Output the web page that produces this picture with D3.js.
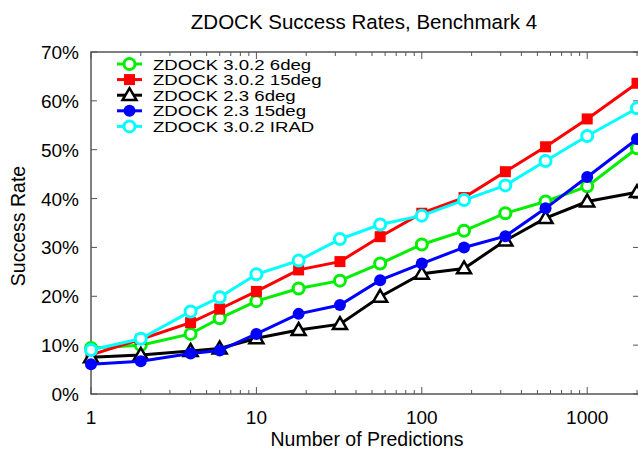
<!DOCTYPE html>
<html>
<head>
<meta charset="utf-8">
<script src="https://cdn.jsdelivr.net/npm/d3@7"></script>
<style>
  body { margin: 0; background: #fff; }
  text { font-family: "Liberation Sans", Arial, sans-serif; fill: #000; }
</style>
</head>
<body>
<div id="chart"></div>
<script>
const predictions = [1, 2, 4, 6, 10, 18, 32, 56, 100, 180, 320, 560, 1000, 2000];

const zdock302_6deg  = [9.4, 10.0, 12.3, 15.5, 19.0, 21.6, 23.2, 26.7, 30.6, 33.4, 37.0, 39.4, 42.5, 50.3];
const zdock302_15deg = [8.0, 11.2, 14.6, 17.4, 21.0, 25.4, 27.1, 32.2, 37.0, 40.2, 45.5, 50.6, 56.3, 63.6];
const zdock23_6deg   = [7.5, 8.0, 8.8, 9.3, 11.4, 13.1, 14.3, 19.9, 24.6, 25.7, 31.4, 36.0, 39.4, 41.3];
const zdock23_15deg  = [6.1, 6.7, 8.3, 8.9, 12.3, 16.4, 18.2, 23.3, 26.7, 30.0, 32.3, 38.0, 44.4, 52.2];
const zdock302_irad  = [9.0, 11.3, 16.9, 19.8, 24.5, 27.3, 31.7, 34.7, 36.5, 39.7, 42.7, 47.7, 52.8, 58.5];

const seriesNames = ["ZDOCK 3.0.2 6deg", "ZDOCK 3.0.2 15deg", "ZDOCK 2.3 6deg", "ZDOCK 2.3 15deg", "ZDOCK 3.0.2 IRAD"];
const seriesColors = ["#00ee00", "#ff0000", "#000000", "#0000ff", "#00ffff"];
const seriesMarkers = ["circleOpen", "square", "triangleOpen", "circleFilled", "circleOpen"];
const seriesValues = [zdock302_6deg, zdock302_15deg, zdock23_6deg, zdock23_15deg, zdock302_irad];

const yTicks = [0, 10, 20, 30, 40, 50, 60, 70];
const xTicks = [1, 10, 100, 1000];

const width = 638, height = 455;
const plot = { left: 91, right: 637, top: 52, bottom: 394 };

const svg = d3.select("#chart").append("svg")
    .attr("width", width)
    .attr("height", height);

const x = d3.scaleLog().domain([1, 2000]).range([plot.left, plot.right]);
const y = d3.scaleLinear().domain([0, 70]).range([plot.bottom, plot.top]);

// title
svg.append("text")
    .attr("x", 364)
    .attr("y", 29)
    .attr("text-anchor", "middle")
    .attr("font-size", "20.5px")
    .text("ZDOCK Success Rates, Benchmark 4");

// axis labels
svg.append("text")
    .attr("x", 367)
    .attr("y", 446)
    .attr("text-anchor", "middle")
    .attr("font-size", "19.5px")
    .text("Number of Predictions");

svg.append("text")
    .attr("transform", "translate(25,226) rotate(-90)")
    .attr("text-anchor", "middle")
    .attr("font-size", "19.5px")
    .text("Success Rate");

// frame and ticks
const axisColor = "#555";
const frame = svg.append("g");

yTicks.forEach(t => {
    frame.append("line")
        .attr("x1", plot.left).attr("x2", plot.left + 6)
        .attr("y1", y(t)).attr("y2", y(t))
        .attr("stroke", axisColor).attr("stroke-width", 1);
    frame.append("line")
        .attr("x1", plot.right - 4).attr("x2", plot.right + 2)
        .attr("y1", y(t)).attr("y2", y(t))
        .attr("stroke", axisColor).attr("stroke-width", 1);
    frame.append("text")
        .attr("x", 79)
        .attr("y", y(t) + 7)
        .attr("text-anchor", "end")
        .attr("font-size", "19px")
        .text(t + "%");
});

// log ticks: majors at decades, minors in between
const minorTicks = [];
for (let dec = 1; dec <= 1000; dec *= 10) {
    for (let m = 2; m <= 9; m++) {
        if (dec * m <= 2000) minorTicks.push(dec * m);
    }
}
minorTicks.forEach(t => {
    frame.append("line")
        .attr("x1", x(t)).attr("x2", x(t))
        .attr("y1", plot.bottom).attr("y2", plot.bottom - 4)
        .attr("stroke", axisColor).attr("stroke-width", 1);
    frame.append("line")
        .attr("x1", x(t)).attr("x2", x(t))
        .attr("y1", plot.top).attr("y2", plot.top + 4)
        .attr("stroke", axisColor).attr("stroke-width", 1);
});
xTicks.forEach(t => {
    frame.append("line")
        .attr("x1", x(t)).attr("x2", x(t))
        .attr("y1", plot.bottom).attr("y2", plot.bottom - 7)
        .attr("stroke", axisColor).attr("stroke-width", 1);
    frame.append("line")
        .attr("x1", x(t)).attr("x2", x(t))
        .attr("y1", plot.top).attr("y2", plot.top + 7)
        .attr("stroke", axisColor).attr("stroke-width", 1);
    frame.append("text")
        .attr("x", x(t))
        .attr("y", 424)
        .attr("text-anchor", "middle")
        .attr("font-size", "19px")
        .text(t);
});

frame.append("rect")
    .attr("x", plot.left).attr("y", plot.top)
    .attr("width", plot.right - plot.left + 4)
    .attr("height", plot.bottom - plot.top)
    .attr("fill", "none")
    .attr("stroke", axisColor).attr("stroke-width", 1.5);

// marker drawing
function drawMarker(g, type, color, cx, cy) {
    if (type === "circleOpen") {
        g.append("circle").attr("cx", cx).attr("cy", cy).attr("r", 5.5)
            .attr("fill", "#fff").attr("stroke", color).attr("stroke-width", 3);
    } else if (type === "circleFilled") {
        g.append("circle").attr("cx", cx).attr("cy", cy).attr("r", 6)
            .attr("fill", color);
    } else if (type === "square") {
        g.append("rect").attr("x", cx - 5.5).attr("y", cy - 5.5)
            .attr("width", 11).attr("height", 11)
            .attr("fill", color);
    } else if (type === "triangleOpen") {
        const s = 7;
        g.append("path")
            .attr("d", `M${cx},${cy - s} L${cx + s},${cy + s * 0.7} L${cx - s},${cy + s * 0.7} Z`)
            .attr("fill", "#fff").attr("stroke", color).attr("stroke-width", 2.5)
            .attr("stroke-linejoin", "miter");
    }
}

const line = d3.line()
    .x((d, i) => x(predictions[i]))
    .y(d => y(d));

const marks = svg.append("g");
seriesValues.forEach((vals, s) => {
    const g = marks.append("g");
    g.append("path")
        .datum(vals)
        .attr("fill", "none")
        .attr("stroke", seriesColors[s])
        .attr("stroke-width", 3)
        .attr("d", line);
    vals.forEach((v, i) => drawMarker(g, seriesMarkers[s], seriesColors[s], x(predictions[i]), y(v)));
});

// legend - text is set tight and stretched wide, like the original
const legend = svg.append("g");
seriesNames.forEach((name, i) => {
    const ly = 64 + i * 15.6;
    legend.append("line")
        .attr("x1", 117).attr("x2", 142)
        .attr("y1", ly).attr("y2", ly)
        .attr("stroke", seriesColors[i]).attr("stroke-width", 3);
    drawMarker(legend, seriesMarkers[i], seriesColors[i], 129.5, ly);
    const t = legend.append("text")
        .attr("x", 153)
        .attr("y", ly + 5.5)
        .attr("font-size", "15.5px")
        .text(name);
    const natural = t.node().getComputedTextLength();
    t.attr("textLength", natural * 1.2).attr("lengthAdjust", "spacingAndGlyphs");
});
</script>
</body>
</html>
